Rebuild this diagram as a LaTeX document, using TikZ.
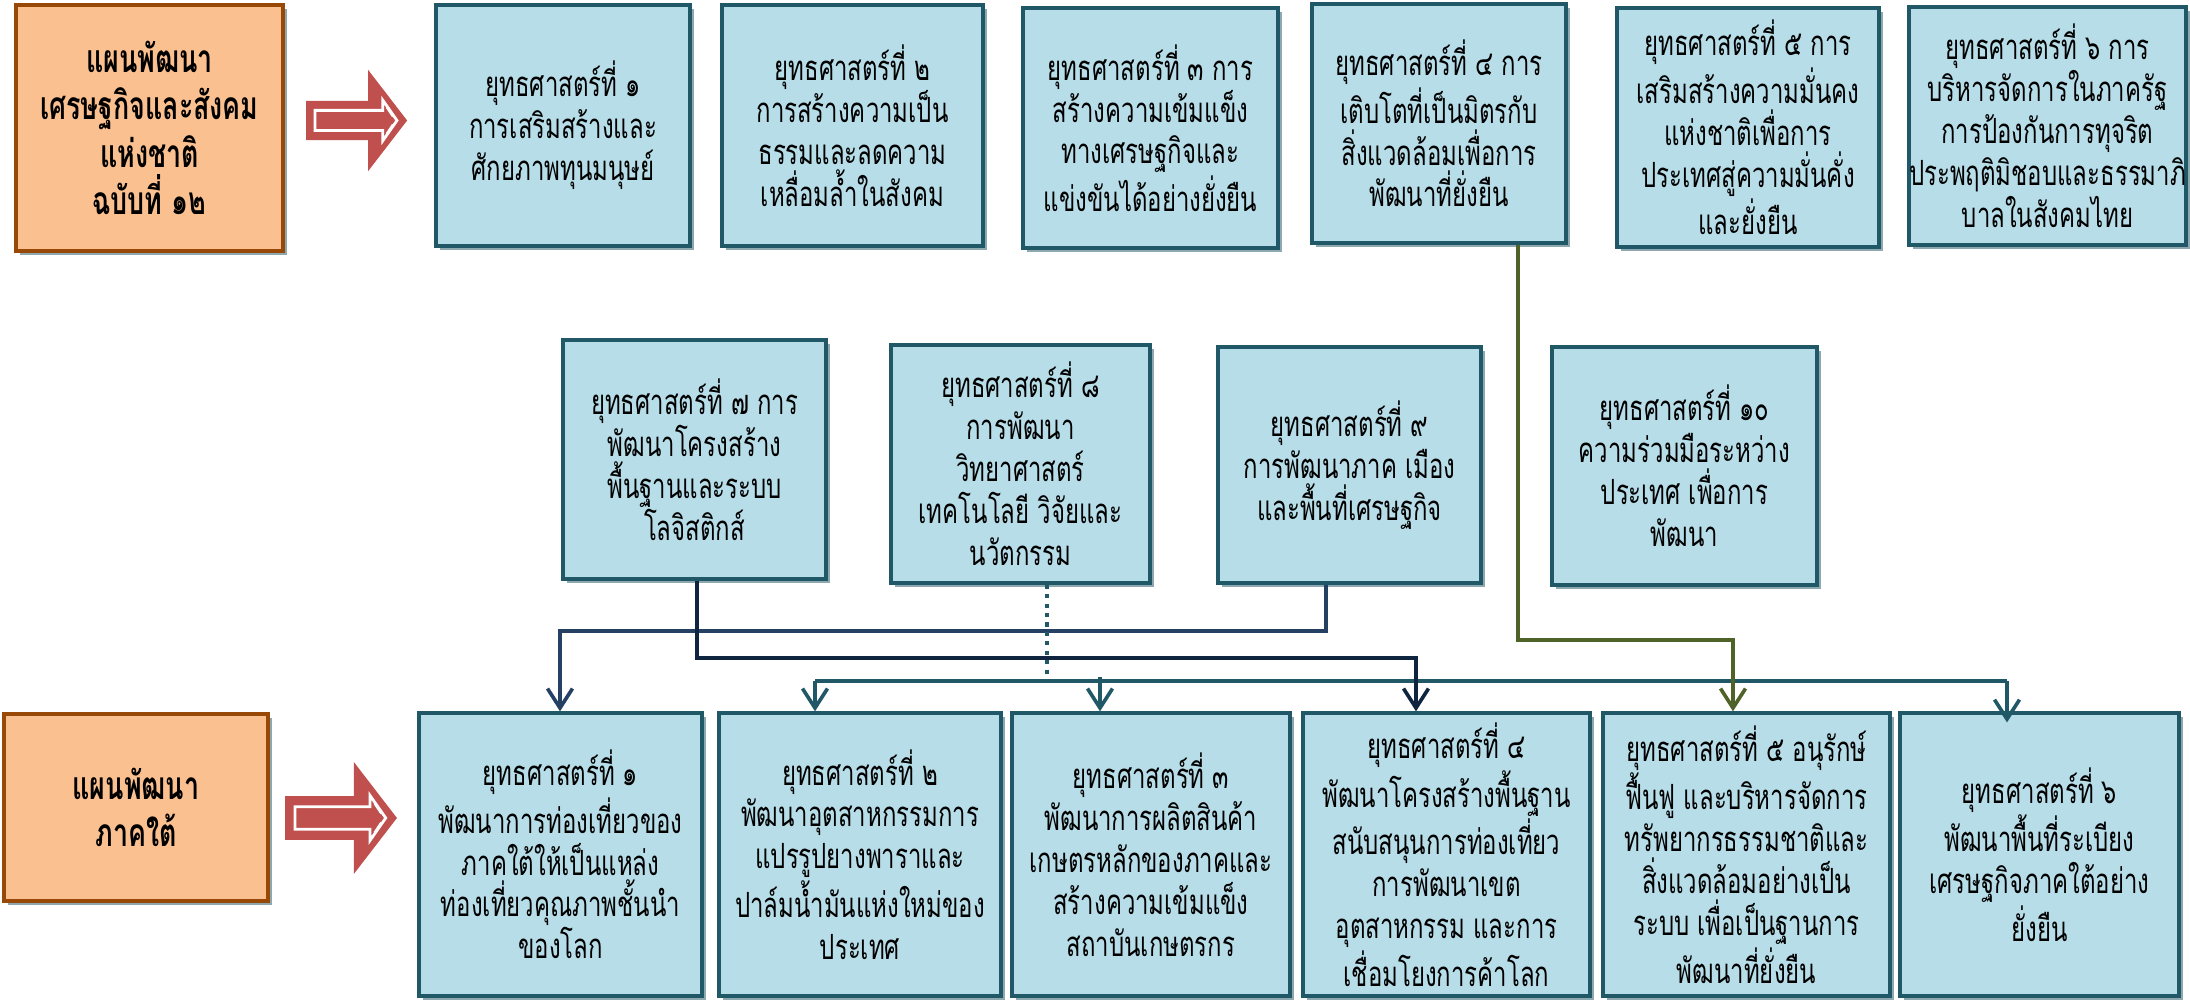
\documentclass[tikz,border=0pt]{standalone}
\usepackage{fontspec}
\newfontfamily\thaifont[Script=Thai,FakeStretch=0.69]{Loma}
\usetikzlibrary{arrows.meta,shadows}
\definecolor{boxfill}{HTML}{B7DDE8}
\definecolor{boxline}{HTML}{215868}
\definecolor{orfill}{HTML}{FAC090}
\definecolor{orline}{HTML}{984807}
\definecolor{shadec}{HTML}{8EA8B0}
\definecolor{redar}{HTML}{C0504D}
\definecolor{navyc}{HTML}{0F243E}
\definecolor{navyb}{HTML}{244062}
\definecolor{olivec}{HTML}{4F6228}
\definecolor{tealc}{HTML}{215868}
\tikzset{
  bluebox/.style={draw=boxline, line width=1.2pt, fill=boxfill, inner sep=0pt, align=center,
    font=\thaifont\fontsize{12.5}{15.1}\selectfont,
    drop shadow={fill=shadec, opacity=1, shadow xshift=1.4pt, shadow yshift=-1.4pt}},
  orbox/.style={draw=orline, line width=1.2pt, fill=orfill, inner sep=0pt, align=center,
    font=\thaifont\bfseries\fontsize{14}{17}\selectfont,
    drop shadow={fill=shadec, opacity=1, shadow xshift=1.4pt, shadow yshift=-1.4pt}},
  conn/.style={line width=1.3pt, -{Straight Barb[length=7pt,width=9pt,line width=1.3pt]}},
  plain/.style={line width=1.3pt}
}
\newcommand\mybox[7]{%
  \node[#1, minimum width={(#5-#3)*0.36pt}, minimum height={(#6-#4)*0.36pt}] (#2)
    at ({(#3+#5)/2},{(#4+#6)/2}) {#7};}
\newcommand\redarrow[3]{%
  \begin{scope}[shift={(#1,#2)}, x=#3, y=-#3]
    \fill[redar] (0,-0.195) -- (0.615,-0.195) -- (0.615,-0.5) -- (1,0) -- (0.615,0.5) -- (0.615,0.195) -- (0,0.195) -- cycle;
    \draw[white, line width=1pt, fill=redar] (0.09,-0.1) -- (0.76,-0.1) -- (0.76,-0.2) -- (0.9,0) -- (0.76,0.2) -- (0.76,0.1) -- (0.09,0.1) -- cycle;
    \draw[white, line width=0.8pt] (0.80,-0.13) -- (0.86,-0.04) (0.80,0.13) -- (0.86,0.04);
  \end{scope}}
\begin{document}
\begin{tikzpicture}[x=0.36pt, y=-0.36pt]
\useasboundingbox (0,0) rectangle (2190,1001);
% orange boxes
\mybox{orbox}{O1}{16}{5}{283}{251}{แผนพัฒนา\\เศรษฐกิจและสังคม\\แห่งชาติ\\ฉบับที่ ๑๒}
\mybox{orbox}{O2}{4}{714}{268}{901}{แผนพัฒนา\\ภาคใต้}
% red arrows
\redarrow{306}{120.5}{36.4pt}
\redarrow{285}{818}{40.3pt}
% top row
\mybox{bluebox}{T1}{436}{5}{690}{246}{ยุทธศาสตร์ที่ ๑\\การเสริมสร้างและ\\ศักยภาพทุนมนุษย์}
\mybox{bluebox}{T2}{722}{5}{983}{246}{ยุทธศาสตร์ที่ ๒\\การสร้างความเป็น\\ธรรมและลดความ\\เหลื่อมล้ำในสังคม}
\mybox{bluebox}{T3}{1023}{8}{1278}{248}{ยุทธศาสตร์ที่ ๓ การ\\สร้างความเข้มแข็ง\\ทางเศรษฐกิจและ\\แข่งขันได้อย่างยั่งยืน}
\mybox{bluebox}{T4}{1312}{4}{1566}{243}{ยุทธศาสตร์ที่ ๔ การ\\เติบโตที่เป็นมิตรกับ\\สิ่งแวดล้อมเพื่อการ\\พัฒนาที่ยั่งยืน}
\mybox{bluebox}{T5}{1617}{8}{1879}{247}{ยุทธศาสตร์ที่ ๕ การ\\เสริมสร้างความมั่นคง\\แห่งชาติเพื่อการ\\ประเทศสู่ความมั่นคั่ง\\และยั่งยืน}
\mybox{bluebox}{T6}{1917}{7}{2178}{245}{ยุทธศาสตร์ที่ ๖ การ\\บริหารจัดการในภาครัฐ\\การป้องกันการทุจริต\\ประพฤติมิชอบและธรรมาภิ\\บาลในสังคมไทย}
% middle row
\mybox{bluebox}{M7}{563}{340}{826}{579}{ยุทธศาสตร์ที่ ๗ การ\\พัฒนาโครงสร้าง\\พื้นฐานและระบบ\\โลจิสติกส์}
\mybox{bluebox}{M8}{891}{345}{1150}{583}{ยุทธศาสตร์ที่ ๘\\การพัฒนา\\วิทยาศาสตร์\\เทคโนโลยี วิจัยและ\\นวัตกรรม}
\mybox{bluebox}{M9}{1218}{347}{1481}{583}{ยุทธศาสตร์ที่ ๙\\การพัฒนาภาค เมือง\\และพื้นที่เศรษฐกิจ}
\mybox{bluebox}{M10}{1552}{347}{1817}{585}{ยุทธศาสตร์ที่ ๑๐\\ความร่วมมือระหว่าง\\ประเทศ เพื่อการ\\พัฒนา}
% bottom row
\mybox{bluebox}{B1}{419}{713}{702}{996}{ยุทธศาสตร์ที่ ๑\\พัฒนาการท่องเที่ยวของ\\ภาคใต้ให้เป็นแหล่ง\\ท่องเที่ยวคุณภาพชั้นนำ\\ของโลก}
\mybox{bluebox}{B2}{719}{713}{1001}{996}{ยุทธศาสตร์ที่ ๒\\พัฒนาอุตสาหกรรมการ\\แปรรูปยางพาราและ\\ปาล์มน้ำมันแห่งใหม่ของ\\ประเทศ}
\mybox{bluebox}{B3}{1012}{713}{1290}{996}{ยุทธศาสตร์ที่ ๓\\พัฒนาการผลิตสินค้า\\เกษตรหลักของภาคและ\\สร้างความเข้มแข็ง\\สถาบันเกษตรกร}
\mybox{bluebox}{B4}{1303}{713}{1590}{996}{ยุทธศาสตร์ที่ ๔\\พัฒนาโครงสร้างพื้นฐาน\\สนับสนุนการท่องเที่ยว\\การพัฒนาเขต\\อุตสาหกรรม และการ\\เชื่อมโยงการค้าโลก}
\mybox{bluebox}{B5}{1603}{713}{1890}{996}{ยุทธศาสตร์ที่ ๕ อนุรักษ์\\ฟื้นฟู และบริหารจัดการ\\ทรัพยากรธรรมชาติและ\\สิ่งแวดล้อมอย่างเป็น\\ระบบ เพื่อเป็นฐานการ\\พัฒนาที่ยั่งยืน}
\mybox{bluebox}{B6}{1900}{713}{2179}{996}{ยุทธศาสตร์ที่ ๖\\พัฒนาพื้นที่ระเบียง\\เศรษฐกิจภาคใต้อย่าง\\ยั่งยืน}
% connector coordinates
\coordinate (gA) at (1518,640); \coordinate (gB) at (1733,640);
\coordinate (nA) at (697,658); \coordinate (nB) at (1416,658);
\coordinate (bA) at (1326,631); \coordinate (bB) at (560,631);
\coordinate (dA) at (1047,681);
\coordinate (tA) at (815,681); \coordinate (tB) at (1100,681); \coordinate (tC) at (2007,681);
% teal distribution
\draw[plain, tealc, line width=1.1pt] (tA) -- (tC);
\draw[conn, tealc] (tA) -- (B2.north -| tA);
\draw[conn, tealc] ([yshift=1.4pt]tB) -- (B3.north -| tB);
\draw[conn, tealc, shorten >=-4pt] (tC) -- (B6.north -| tC);
% blue from M9 to B1
\draw[conn, navyb] (M9.south -| bA) -- (bA) -- (bB) -- (B1.north -| bB);
% navy from M7 to B4
\draw[conn, navyc] (M7.south -| nA) -- (nA) -- (nB) -- (B4.north -| nB);
% olive from T4 to B5
\draw[conn, olivec] (T4.south -| gA) -- (gA) -- (gB) -- (B5.north -| gB);
% dotted from M8
\draw[tealc, line width=1.3pt, dash pattern=on 1.5pt off 1.9pt] (M8.south -| dA) -- (dA);
\end{tikzpicture}
\end{document}
